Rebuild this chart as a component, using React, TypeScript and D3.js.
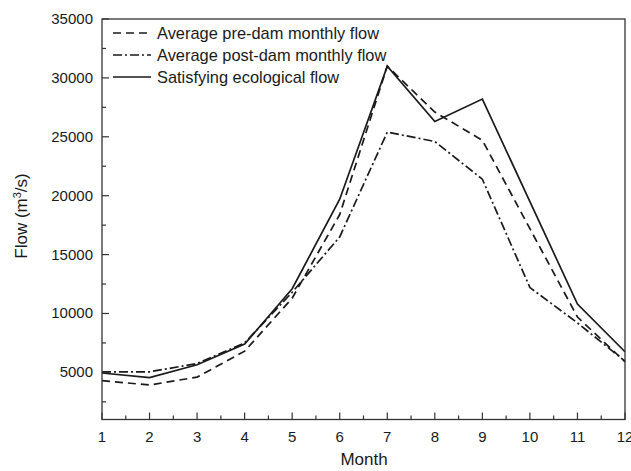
import React from "react";
import * as d3 from "d3";

const months = [1, 2, 3, 4, 5, 6, 7, 8, 9, 10, 11, 12];
const preDam = [4300, 3930, 4600, 6800, 11300, 18400, 31000, 27100, 24700, 17200, 9700, 5900];
const postDam = [5050, 5050, 5750, 7500, 11800, 16500, 25400, 24600, 21400, 12200, 9200, 5950];
const ecological = [4950, 4550, 5650, 7400, 12100, 19700, 31000, 26300, 28200, 19500, 10800, 6750];
const yTicks = [5000, 10000, 15000, 20000, 25000, 30000, 35000];
const seriesNames = [
  "Average pre-dam monthly flow",
  "Average post-dam monthly flow",
  "Satisfying ecological flow",
];

const W = 631;
const H = 471;
const m = { left: 102, right: 625, top: 19, bottom: 419.5 };

export default function App() {
  const x = d3.scaleLinear().domain([1, 12]).range([m.left, m.right]);
  const y = d3.scaleLinear().domain([1000, 35000]).range([m.bottom, m.top]);
  const line = d3
    .line<number>()
    .x((_, i) => x(months[i]))
    .y((d) => y(d));

  const dashes = ["8,5", "9,3,2,3", ""];
  const data = [preDam, postDam, ecological];
  const font = "Liberation Sans, Arial, sans-serif";
  const ink = "#1a1a1a";

  const xMinor = d3.range(1.5, 12, 1);
  const yMinor = d3.range(2500, 35000, 5000);

  return (
    <svg width={W} height={H} style={{ position: "absolute", left: 0, top: 0 }} fontFamily={font}>
      <rect width={W} height={H} fill="#fff" />
      {data.map((d, i) => (
        <path
          key={i}
          d={line(d) || ""}
          fill="none"
          stroke={ink}
          strokeWidth={1.7}
          strokeDasharray={dashes[i] || undefined}
        />
      ))}
      <rect
        x={m.left}
        y={m.top}
        width={m.right - m.left}
        height={m.bottom - m.top}
        fill="none"
        stroke="#333"
        strokeWidth={1.3}
      />
      {months.map((v) => (
        <g key={"x" + v}>
          <line x1={x(v)} x2={x(v)} y1={m.bottom} y2={m.bottom - 7} stroke="#333" strokeWidth={1.2} />
          <text x={x(v)} y={m.bottom + 22} textAnchor="middle" fontSize={15} fill={ink}>
            {v}
          </text>
        </g>
      ))}
      {xMinor.map((v) => (
        <line key={"xm" + v} x1={x(v)} x2={x(v)} y1={m.bottom} y2={m.bottom - 4} stroke="#333" strokeWidth={1.2} />
      ))}
      {yTicks.map((v) => (
        <g key={"y" + v}>
          <line x1={m.left} x2={m.left + 7} y1={y(v)} y2={y(v)} stroke="#333" strokeWidth={1.2} />
          <text x={m.left - 9} y={y(v) + 5} textAnchor="end" fontSize={15} fill={ink}>
            {v}
          </text>
        </g>
      ))}
      {yMinor.map((v) => (
        <line key={"ym" + v} x1={m.left} x2={m.left + 4} y1={y(v)} y2={y(v)} stroke="#333" strokeWidth={1.2} />
      ))}
      <text x={364} y={465} textAnchor="middle" fontSize={17} fill={ink}>
        Month
      </text>
      <text transform={`translate(27,216) rotate(-90)`} textAnchor="middle" fontSize={17} fill={ink}>
        Flow (m<tspan dy={-6} fontSize={11}>3</tspan>
        <tspan dy={6}>/s)</tspan>
      </text>
      {seriesNames.map((n, i) => {
        const ly = 33 + i * 22;
        return (
          <g key={n}>
            <line
              x1={113}
              x2={151}
              y1={ly}
              y2={ly}
              stroke={ink}
              strokeWidth={1.7}
              strokeDasharray={dashes[i] || undefined}
            />
            <text x={157} y={ly + 6} fontSize={16.4} fill={ink}>
              {n}
            </text>
          </g>
        );
      })}
    </svg>
  );
}
